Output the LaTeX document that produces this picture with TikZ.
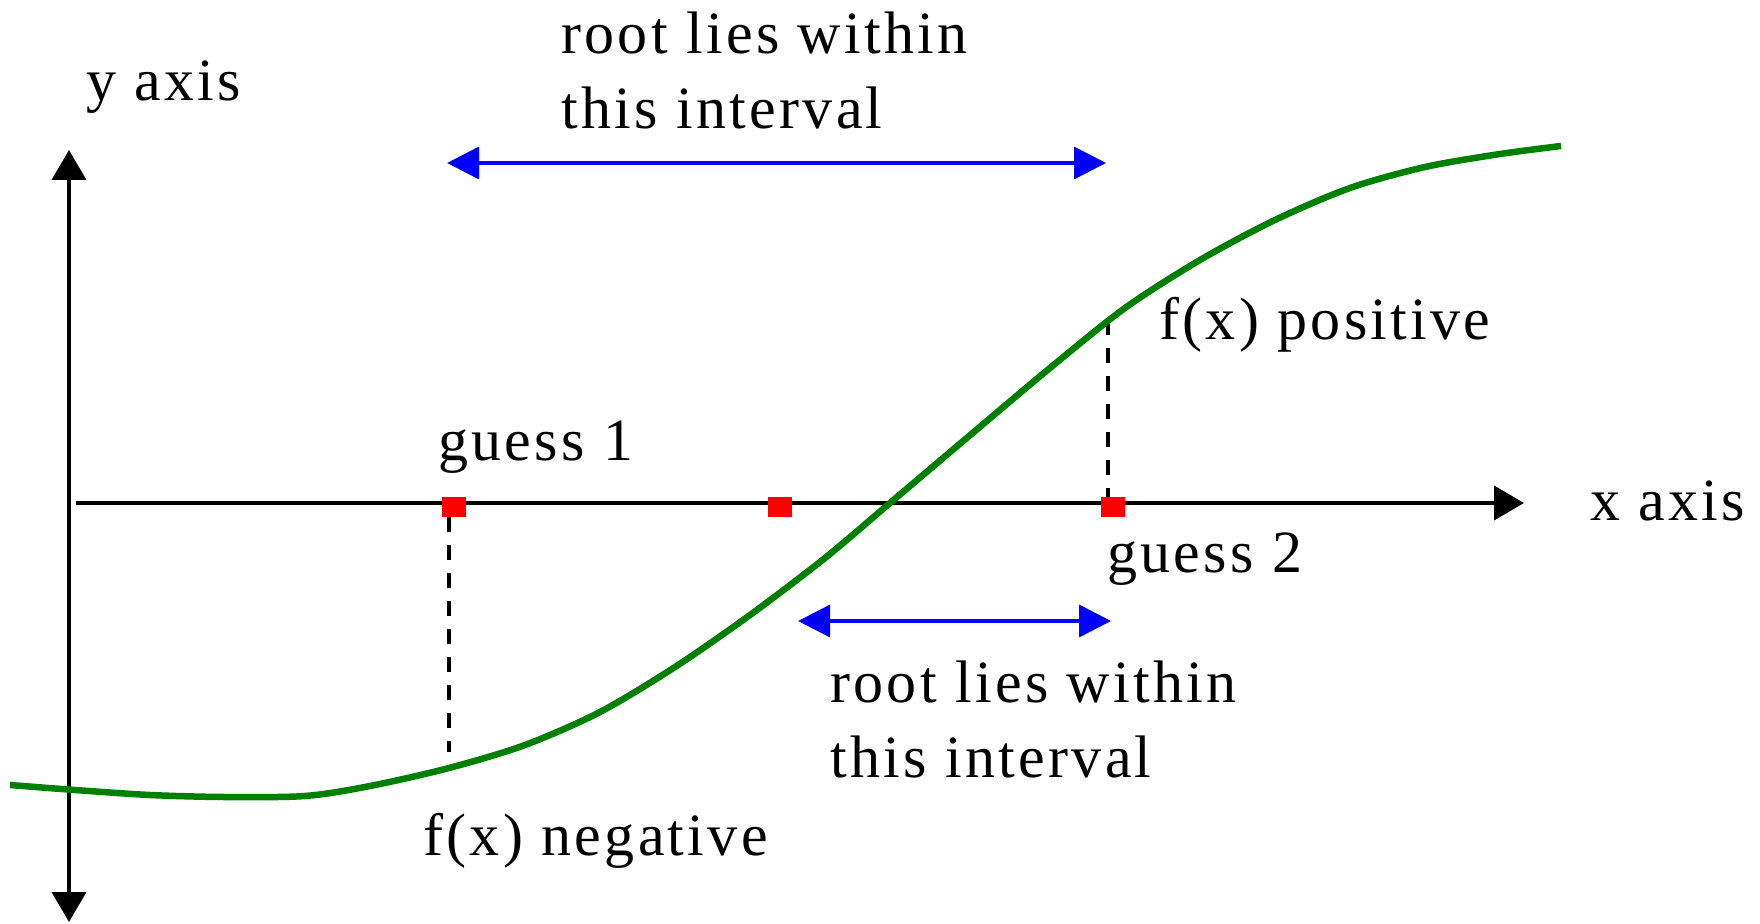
\documentclass[tikz,border=0pt]{standalone}
\usepackage{fontspec}
\setmainfont{Liberation Serif}[LetterSpace=5.5]
\definecolor{curvegreen}{HTML}{008000}
\definecolor{intervalblue}{HTML}{0000FF}
\definecolor{guessred}{HTML}{FF0000}
\usetikzlibrary{arrows.meta}

\begin{document}
\begin{tikzpicture}[x=0.5pt,y=-0.5pt,
  axistip/.tip={Triangle[length=15pt,width=17pt]},
  bluetip/.tip={Triangle[length=16pt,width=16pt]},
  axis/.style={line width=2pt},
  interval/.style={intervalblue,line width=1.75pt,bluetip-bluetip},
  guide/.style={line width=2pt,dash pattern=on 7.5pt off 6.5pt},
  guessmark/.style={fill=guessred,minimum width=12pt,minimum height=10pt,inner sep=0pt},
  lbl/.style={anchor=base west,inner sep=0pt,font=\fontsize{30}{37.5}\selectfont,align=left}]
  \useasboundingbox (0,0) rectangle (1760,924);

  % axes
  \coordinate (ybot) at (69,922);
  \coordinate (ytop) at (69,150);
  \coordinate (xleft) at (76,503);
  \coordinate (xright) at (1524,503);
  \draw[axis,axistip-axistip] (ybot) -- (ytop);
  \draw[axis,-axistip] (xleft) -- (xright);
  \node[lbl] (ylabel) at (86,101) {y axis};
  \node[lbl] (xlabel) at (1590,521) {x axis};

  % dashed guides down/up to the curve
  \coordinate (fneg) at (449,752);
  \coordinate (fpos) at (1108,320);
  \node[guessmark] (guess1) at (454,507) {};
  \node[guessmark] (mid) at (780,507) {};
  \node[guessmark] (guess2) at (1113,507) {};
  \draw[guide] (guess1.south -| fneg) -- (fneg);
  \draw[guide] (fpos) -- (fpos |- guess2.north);

  % f(x)
  \draw[curvegreen,line width=3.25pt] plot[smooth] coordinates {(10,785) (75,790) (150,795)
    (224,797) (305,796) (370,786) (449,768) (525,745) (600,712) (675,667) (750,615)
    (825,558) (890,503) (975,431) (1050,368) (1125,308) (1200,260) (1275,220) (1350,188)
    (1425,167) (1500,154) (1561,146)};

  \node[guessmark] at (guess1) {};
  \node[guessmark] at (mid) {};
  \node[guessmark] at (guess2) {};

  % intervals (base of a two-line node is its last line)
  \coordinate (top1) at (447,163);
  \coordinate (top2) at (1106,163);
  \coordinate (low1) at (798,621);
  \coordinate (low2) at (1111,621);
  \draw[interval] (top1) -- (top2);
  \draw[interval] (low1) -- (low2);
  \node[lbl] (toptext) at (561,129) {root lies within\\this interval};
  \node[lbl] (lowtext) at (830,777) {root lies within\\this interval};

  \node[lbl] (g1text) at (438,461) {guess 1};
  \node[lbl] (g2text) at (1107,572) {guess 2};
  \node[lbl] (postext) at (1159,340) {f(x) positive};
  \node[lbl] (negtext) at (423,855) {f(x) negative};
\end{tikzpicture}
\end{document}
